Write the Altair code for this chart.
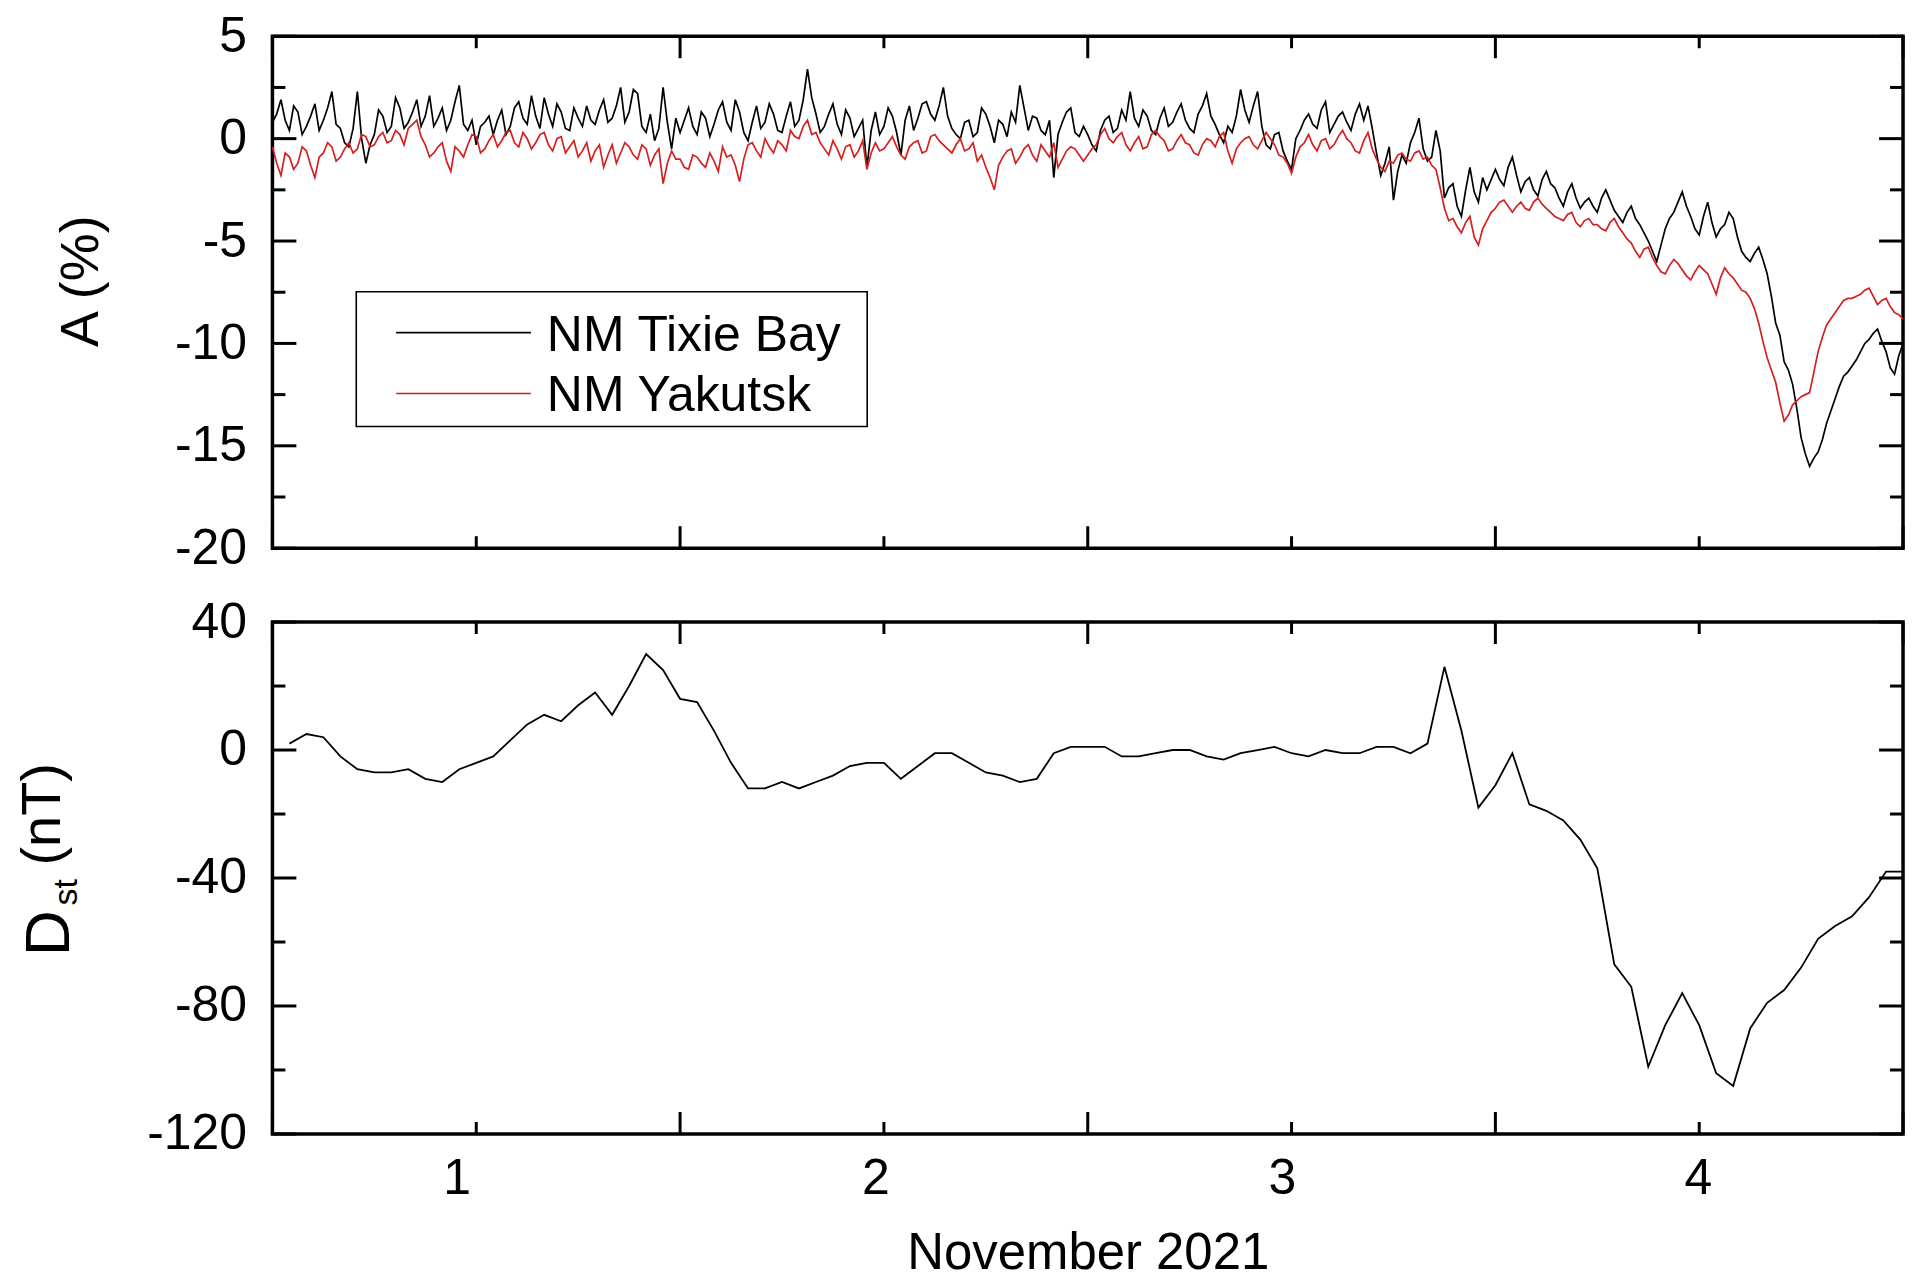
import altair as alt
import pandas as pd

# ---------------- data ----------------
# Neutron monitor count-rate variation A (%), samples on the half hour from 1 Nov 2021 00 UT
tixie_nov1 = [0.8, 1.9, 0.4, 1.3, 0.6, 1.7, 0.9, 2.3, 0.5, -0.4, 2.3, -1.2, 0.2, 1.1, 0.6, 1.5,
              0.8, 1.9, 1.1, 0.6, 1.5, 0.9, 2.6, 0.4, -0.3, 0.8, 0.2, 1.4, 0.6, 1.8, 0.7, 1.1,
              2.0, 0.6, 1.3, 0.4, 1.0, 1.6, 0.7, 1.9, 1.0, 2.5, 1.3, 2.2, 0.3, -0.1, 2.5, -0.5]
tixie_nov2 = [0.3, 1.5, 0.2, 1.0, 0.7, 1.8, 0.4, 1.3, -0.1, 1.6, 0.8, 1.2, 0.3, 1.8, 0.9, 3.4,
              1.2, 0.6, 1.7, 0.2, 1.0, 0.5, -1.4, 1.3, 0.6, 1.1, -0.8, 1.6, 1.0, 1.8, 0.9, 2.5,
              0.5, 0.0, 0.9, 0.3, 1.2, -0.2, 0.7, 1.3, 2.6, 0.4, 1.0, 0.2, -1.9, 0.8, 1.5, 0.1]
tixie_nov3 = [0.2, -0.6, 0.9, 0.3, 1.4, 2.3, 0.6, 1.1, 0.2, 1.5, 0.8, 1.7, 0.5, 1.2, 2.2, 0.7,
              -0.2, 0.3, 2.4, 0.8, 2.3, -0.3, 0.2, -0.6, -1.5, 0.4, 1.2, 0.5, 1.8, 0.7, 1.3, 0.4,
              1.7, 1.6, -0.7, -1.2, -3.0, -0.8, -0.2, 1.0, -1.1, 0.4, -2.9, -2.2, -3.8, -1.4, -3.1, -2.5]
tixie_nov4 = [-1.5, -2.3, -0.9, -2.6, -1.9, -2.8, -1.6, -2.4, -3.3, -2.2, -3.4, -2.9, -3.6, -2.5, -3.5, -4.1,
              -3.3, -4.2, -5.0, -6.0, -4.4, -3.6, -2.6, -3.8, -4.7, -3.1, -4.8, -4.2, -3.9, -5.5, -6.0, -5.3,
              -6.6, -9.0, -10.9, -12.0, -14.6, -16.0, -15.3, -13.9, -12.7, -11.6, -11.1, -10.4, -9.8, -9.3,
              -10.4, -11.5, -10.0]
# values at the quarter hours in between
tixie_mid1 = [1.2, 0.9, 1.6, 0.2, 1.1, 0.4, 1.5, 0.7, -0.2, 0.5, 0.0, -0.3, 1.4, 0.3, 2.0, 0.5,
              1.3, 0.6, 2.1, 1.0, 0.4, 1.8, 0.7, 0.9, 0.6, 1.1, 0.9, 0.2, 1.5, 1.0, 2.1, 0.5,
              1.2, 1.7, 0.5, 1.5, 0.6, 0.9, 1.4, 0.8, 1.6, 0.8, 2.4, 0.6, 1.2, 0.5, 0.8, 1.0]
tixie_mid2 = [0.9, 0.6, 1.3, 0.1, 1.4, 0.8, 1.9, 0.3, 0.8, 0.5, 1.7, 0.4, 1.1, 0.6, 1.9, 2.0,
              0.3, 1.2, 0.7, 1.4, 0.1, 0.9, 0.4, 0.2, 1.5, 0.3, 0.9, 0.4, 1.7, 1.2, 1.6, 1.1,
              0.2, 0.8, 0.1, 1.5, 0.6, 0.9, 0.1, 0.8, 1.5, 1.1, 0.4, 0.9, 0.2, 1.3, 0.3, 0.6]
tixie_mid3 = [-0.3, 0.4, 1.1, 0.5, 0.9, 1.0, 1.4, 0.4, 1.0, 0.6, 1.3, 0.9, 0.3, 1.6, 1.1, 0.2,
              0.6, 1.1, 1.4, 1.6, 0.6, -0.5, 0.3, -1.1, 0.0, 0.9, 0.7, 1.4, 0.3, 1.1, 0.8, 1.2,
              0.9, 0.5, -1.8, -0.4, -1.6, -1.2, 0.3, -0.5, -0.9, -0.6, -2.4, -3.3, -2.5, -2.6, -1.9, -2.0]
tixie_mid4 = [-2.0, -1.4, -1.8, -2.1, -2.5, -2.0, -2.2, -2.9, -2.6, -2.9, -3.1, -3.3, -2.9, -3.0, -3.8, -3.6,
              -3.9, -4.6, -5.5, -5.2, -3.9, -3.1, -3.3, -4.4, -3.8, -4.1, -4.4, -3.6, -4.8, -5.8, -5.6, -5.9,
              -7.7, -9.6, -11.3, -13.2, -15.4, -15.6, -14.7, -13.3, -12.1, -11.4, -10.8, -10.0, -9.5, -9.9,
              -11.2, -10.6]

yakutsk_nov1 = [-0.4, -1.8, -0.9, -1.2, -0.6, -1.9, -0.7, -0.4, -0.9, -0.2, -0.5, 0.1, -0.3, 0.3, -0.1, 0.2,
                0.5, 0.9, -0.3, -0.7, -0.2, -1.6, -0.6, -0.3, 0.1, -0.5, 0.2, -0.1, 0.4, -0.4, 0.0, -0.2,
                0.3, -0.6, 0.1, -0.4, -0.9, -0.2, -0.6, -1.4, -0.3, -0.7, -0.4, -1.0, -0.5, -0.8, -2.2, -0.6]
yakutsk_nov2 = [-1.0, -1.5, -0.9, -1.4, -1.1, -0.4, -0.8, -2.1, -0.3, -0.6, 0.0, -0.7, -0.3, 0.4, 0.0, 0.9,
                0.3, -0.5, -0.1, -1.0, -0.3, -0.6, -1.5, -0.2, -0.5, 0.1, -0.8, -0.4, -0.1, -0.6, 0.2, -0.3,
                -0.7, 0.0, -0.5, -1.1, -1.4, -2.5, -0.9, -0.5, -0.9, -0.3, -1.1, -0.6, -0.2, -1.0, -0.4, -0.8]
yakutsk_nov3 = [-0.8, -0.3, 0.5, -0.2, 0.3, -0.6, 0.1, -0.4, 0.4, -0.1, -0.5, 0.2, -0.3, -0.8, 0.0, -0.4,
                0.3, -1.2, -0.2, 0.1, -0.5, 0.3, -0.3, -0.9, -1.7, -0.4, 0.2, -0.6, 0.0, -0.3, 0.4, -0.2,
                -0.7, 0.3, -1.0, -1.6, -1.2, -0.7, -1.1, -0.6, -0.9, -1.5, -3.4, -3.9, -4.6, -3.8, -5.2, -4.0]
yakutsk_nov4 = [-3.4, -3.0, -3.6, -3.1, -3.5, -2.9, -3.4, -3.8, -4.0, -3.6, -4.3, -3.9, -4.2, -4.5, -3.9, -4.6,
                -5.1, -5.8, -5.3, -6.2, -6.6, -5.9, -6.4, -6.9, -6.2, -6.6, -7.6, -6.3, -6.8, -7.4, -7.8, -9.0,
                -10.7, -11.9, -13.8, -13.0, -12.6, -12.4, -10.4, -9.1, -8.5, -7.9, -7.8, -7.6, -7.3, -8.1,
                -7.8, -8.5, -8.8]
yakutsk_mid1 = [-1.2, -0.7, -1.5, -0.4, -1.3, -0.9, -0.2, -1.1, -0.5, -0.7, 0.2, -0.4, 0.1, -0.2, 0.4, -0.3,
                0.7, 0.1, -0.9, -0.4, -1.1, -0.4, -0.9, 0.2, -0.7, -0.1, -0.4, 0.3, -0.2, 0.3, -0.5, 0.2,
                -0.3, 0.0, -0.7, -0.1, -0.6, -1.1, -0.3, -0.8, -1.2, -0.2, -0.8, -0.3, -1.3, -0.5, -1.2, -1.0]
yakutsk_mid2 = [-1.4, -0.8, -1.2, -0.7, -1.6, -0.9, -1.3, -1.0, -0.2, -0.9, -0.4, -0.1, -0.6, 0.1, 0.6, 0.2,
                -0.2, -0.8, -0.5, -0.4, -0.9, -0.1, -0.7, -0.6, -0.2, -0.4, -1.0, -0.2, -0.7, 0.1, -0.1, -0.5,
                -0.3, -0.6, -0.2, -0.8, -1.9, -1.3, -0.6, -1.2, -0.5, -0.8, -0.3, -0.9, -1.4, -0.6, -0.5, -1.1]
yakutsk_mid3 = [-0.5, 0.2, 0.0, 0.1, -0.3, -0.2, -0.5, 0.2, 0.1, -0.6, -0.1, -0.2, -0.7, -0.3, -0.1, 0.1,
                -0.6, -0.5, 0.0, -0.3, -0.1, 0.0, -0.8, -1.2, -0.9, -0.2, -0.3, -0.1, -0.5, 0.1, 0.0, -0.6,
                -0.1, -0.5, -1.4, -1.1, -0.8, -1.0, -0.7, -1.0, -1.3, -2.4, -4.0, -4.3, -4.1, -4.8, -4.4, -3.6]
yakutsk_mid4 = [-3.1, -3.3, -3.3, -3.4, -3.1, -3.2, -3.6, -3.9, -3.7, -4.1, -4.0, -4.2, -4.4, -4.1, -4.3, -4.9,
                -5.5, -5.4, -5.8, -6.5, -6.2, -6.1, -6.7, -6.5, -6.4, -7.1, -6.8, -6.6, -7.1, -7.5, -8.3, -9.9,
                -11.3, -12.9, -13.5, -12.8, -12.5, -11.4, -9.7, -8.8, -8.2, -7.8, -7.7, -7.4, -7.7, -7.9,
                -8.2, -8.6]

# Hourly Dst index (nT), hours 1..96 of 1-4 Nov 2021
dst_nT = [2, 5, 4, -2, -6, -7, -7, -6, -9, -10, -6, -4, -2, 3, 8, 11, 9, 14, 18, 11,
          20, 30, 25, 16, 15, 6, -4, -12, -12, -10, -12, -10, -8, -5, -4, -4, -9, -5, -1, -1,
          -4, -7, -8, -10, -9, -1, 1, 1, 1, -2, -2, -1, 0, 0, -2, -3, -1, 0, 1, -1,
          -2, 0, -1, -1, 1, 1, -1, 2, 26, 6, -18, -11, -1, -17, -19, -22, -28, -37, -67, -74,
          -99, -86, -76, -86, -101, -105, -87, -79, -75, -68, -59, -55, -52, -46, -38, -38]

series_names = ["NM Tixie Bay", "NM Yakutsk"]
x_major = [0, 1, 2, 3, 4]                 # day boundaries (long ticks)
x_minor = [0.5, 1.5, 2.5, 3.5]            # noon (short ticks)
x_label_pos = [0.452, 1.479, 2.476, 3.497]  # where the day numbers 1..4 are printed
top_major = [-20, -15, -10, -5, 0, 5]
top_minor = [-17.5, -12.5, -7.5, -2.5, 2.5]
bot_major = [-120, -80, -40, 0, 40]
bot_minor = [-100, -60, -20, 20]

# ---------------- build ----------------
W, H = 1634, 513
RED = "#d42020"
FONT = "Liberation Sans"


def interleave(main, mid):
    out = []
    for i, v in enumerate(main):
        out.append(v)
        if i < len(mid):
            out.append(mid[i])
    return out


tixie = interleave(tixie_nov1 + tixie_nov2 + tixie_nov3 + tixie_nov4,
                   tixie_mid1 + tixie_mid2 + tixie_mid3 + tixie_mid4)
yakutsk = interleave(yakutsk_nov1 + yakutsk_nov2 + yakutsk_nov3 + yakutsk_nov4,
                     yakutsk_mid1 + yakutsk_mid2 + yakutsk_mid3 + yakutsk_mid4)
nm_t = [k / 96 for k in range(len(tixie))]
dst_t = [(h + 1) / 24 for h in range(len(dst_nT))]

df_tix = pd.DataFrame({"t": nm_t, "value": tixie})
df_yak = pd.DataFrame({"t": nm_t, "value": yakutsk})
df_dst = pd.DataFrame({"t": dst_t, "value": dst_nT})
one = pd.DataFrame({"k": [0]})

xs = alt.Scale(domain=[0, 4], nice=False, zero=False)
ys_top = alt.Scale(domain=[-20, 5], nice=False, zero=False)
ys_bot = alt.Scale(domain=[-120, 40], nice=False, zero=False)


def tick_layers(ys, ymaj, ymin, x_axis_off):
    def X():
        return alt.X("t:Q", scale=xs, axis=None) if x_axis_off else alt.X("t:Q", scale=xs)
    out = []
    for vals, ln in ((x_major, 22), (x_minor, 12)):
        d = pd.DataFrame({"t": vals})
        out.append(alt.Chart(d).mark_rule(color="black", strokeWidth=3).encode(
            x=X(), y=alt.value(H), y2=alt.value(H - ln)))
        out.append(alt.Chart(d).mark_rule(color="black", strokeWidth=3).encode(
            x=X(), y=alt.value(0), y2=alt.value(ln)))
    for vals, ln in ((ymaj, 24), (ymin, 13)):
        d = pd.DataFrame({"value": vals})
        out.append(alt.Chart(d).mark_rule(color="black", strokeWidth=3).encode(
            y=alt.Y("value:Q", scale=ys), x=alt.value(0), x2=alt.value(ln)))
        out.append(alt.Chart(d).mark_rule(color="black", strokeWidth=3).encode(
            y=alt.Y("value:Q", scale=ys), x=alt.value(W), x2=alt.value(W - ln)))
    return out


top_yaxis = alt.Axis(values=top_major, labelExpr="'' + datum.value", title="A (%)",
                     ticks=False, domain=False, grid=False, labelFontSize=50, labelPadding=26,
                     titleFontSize=54, titleFontWeight="normal", titleAngle=270, titleX=-175,
                     titleY=245, titleBaseline="alphabetic", titleAlign="center")

tix_line = alt.Chart(df_tix).mark_line(color="black", strokeWidth=1.7).encode(
    x=alt.X("t:Q", scale=xs, axis=None),
    y=alt.Y("value:Q", scale=ys_top, axis=top_yaxis))
yak_line = alt.Chart(df_yak).mark_line(color=RED, strokeWidth=1.7).encode(
    x=alt.X("t:Q", scale=xs, axis=None),
    y=alt.Y("value:Q", scale=ys_top))

legend_box = alt.Chart(one).mark_rect(fillOpacity=0, stroke="black", strokeWidth=1.6).encode(
    x=alt.value(84), x2=alt.value(596), y=alt.value(256), y2=alt.value(391))
legend_layers = [legend_box]
for name, col, ly in zip(series_names, ["black", RED], [297, 358]):
    d = pd.DataFrame({"label": [name]})
    legend_layers.append(alt.Chart(d).mark_rule(color=col, strokeWidth=1.6).encode(
        x=alt.value(124), x2=alt.value(259), y=alt.value(ly)))
    legend_layers.append(alt.Chart(d).mark_text(align="left", baseline="alphabetic", fontSize=50,
                                                font=FONT, color="black").encode(
        x=alt.value(275), y=alt.value(ly + 18), text="label:N"))

anchor_tl = alt.Chart(one).mark_rule(color="white", strokeWidth=0.2).encode(
    x=alt.value(-271), x2=alt.value(-270), y=alt.value(-33))

top = alt.layer(tix_line, yak_line, *tick_layers(ys_top, top_major, top_minor, True),
                *legend_layers, anchor_tl).properties(width=W, height=H)

bot_xaxis = alt.Axis(values=x_label_pos, labelExpr="'' + round(datum.value + 0.5)", ticks=False,
                     domain=False, grid=False, labelFontSize=50, labelPadding=60,
                     labelBaseline="alphabetic", title="November 2021", titleFontSize=51,
                     titleFontWeight="normal", titleY=135, titleBaseline="alphabetic")
bot_yaxis = alt.Axis(values=bot_major, labelExpr="'' + datum.value", title="", ticks=False,
                     domain=False, grid=False, labelFontSize=50, labelPadding=26)

dst_line = alt.Chart(df_dst).mark_line(color="black", strokeWidth=1.8).encode(
    x=alt.X("t:Q", scale=xs, axis=bot_xaxis),
    y=alt.Y("value:Q", scale=ys_bot, axis=bot_yaxis))

title_parts = [("D", 64, -204, 335), ("st", 34, -196, 284), ("(nT)", 56, -213, 244)]
title_layers = []
for txt, fs, tx, ty in title_parts:
    d = pd.DataFrame({"label": [txt]})
    title_layers.append(alt.Chart(d).mark_text(angle=270, align="left", baseline="alphabetic",
                                               fontSize=fs, font=FONT, color="black").encode(
        x=alt.value(tx), y=alt.value(ty), text="label:N"))

anchor_br = alt.Chart(one).mark_rule(color="white", strokeWidth=0.2).encode(
    x=alt.value(W + 15), x2=alt.value(W + 16), y=alt.value(H + 145))

bottom = alt.layer(dst_line, *tick_layers(ys_bot, bot_major, bot_minor, False), *title_layers,
                   anchor_br).properties(width=W, height=H)

chart = alt.vconcat(top, bottom, spacing=74, bounds="flush").properties(
    padding=0, background="white"
).configure_view(stroke="black", strokeWidth=3.5).configure_axis(
    labelFont=FONT, titleFont=FONT, labelColor="black", titleColor="black")

chart.save("out.html", embed_options={"renderer": "svg", "actions": False})
